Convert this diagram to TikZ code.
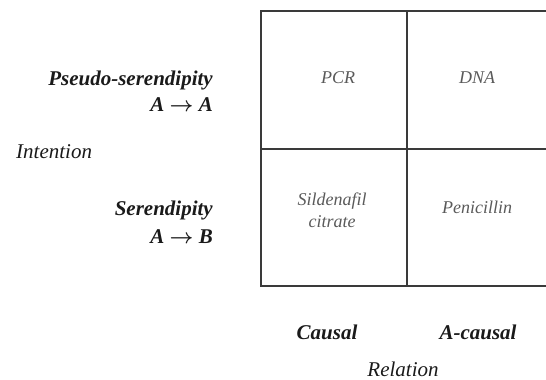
\documentclass[tikz,border=0pt]{standalone}
\usepackage{amsmath}
\usepackage{fontspec}
\setmainfont{Liberation Serif}
\usepackage{xcolor}
\usetikzlibrary{positioning}
\definecolor{gridline}{HTML}{3A3A3A}
\definecolor{celltext}{HTML}{5A5A5A}
\definecolor{labeltext}{HTML}{1A1A1A}
\newcommand{\mapsarrow}{$\boldsymbol{\rightarrow}$}
\tikzset{
  axislabel/.style={font=\fontsize{21}{24}\selectfont\bfseries\itshape, text=labeltext, inner sep=0pt},
  axistitle/.style={font=\fontsize{21}{24}\selectfont\itshape, text=labeltext, inner sep=0pt},
  cellentry/.style={font=\fontsize{18}{22}\selectfont\itshape, text=celltext, align=center, inner sep=0pt}
}

\begin{document}
\begin{tikzpicture}[x=1pt, y=-1pt]
    \useasboundingbox (0,0) rectangle (546,380);

    % Grid (right edge runs off the picture)
    \draw[gridline, line width=1.2pt] (546,11) -- (261,11) -- (261,286) -- (546,286);
    \draw[gridline, line width=1.2pt] (407,11) -- (407,286);
    \draw[gridline, line width=1.2pt] (261,149) -- (546,149);

    % Cell entries
    \node[cellentry] (pcr) at (338,78) {PCR};
    \node[cellentry] (dna) at (477,78) {DNA};
    \node[cellentry] (sildenafil) at (332,210) {Sildenafil\\citrate};
    \node[cellentry] (penicillin) at (477,207) {Penicillin};

    % Row labels
    \node[axislabel, anchor=east] (pseudo) at (213,80) {Pseudo-serendipity};
    \node[axislabel, anchor=east] (pseudoab) at (213,105) {A \mapsarrow{} A};
    \node[axislabel, anchor=east] (seren) at (213,210) {Serendipity};
    \node[axislabel, anchor=east] (serenab) at (213,237) {A \mapsarrow{} B};
    \node[axistitle, anchor=west] (intention) at (16,152) {Intention};

    % Column labels
    \node[axislabel] (causal) at (327,332) {Causal};
    \node[axislabel] (acausal) at (478,332) {A-causal};
    \node[axistitle] (relation) at (403,369) {Relation};

\end{tikzpicture}
\end{document}
